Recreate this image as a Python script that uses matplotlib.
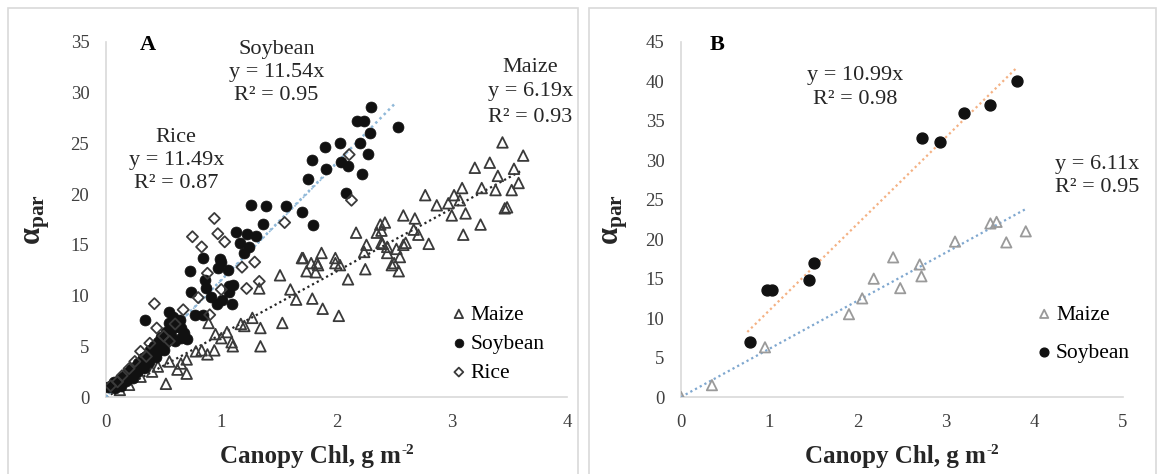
import matplotlib
matplotlib.use("Agg")
import matplotlib.pyplot as plt
from matplotlib.patches import Rectangle
import numpy as np

plt.rcParams['font.family'] = ['Liberation Serif', 'DejaVu Serif']
plt.rcParams['mathtext.fontset'] = 'custom'
plt.rcParams['mathtext.rm'] = 'Liberation Serif'
plt.rcParams['mathtext.it'] = 'Liberation Serif:italic'
plt.rcParams['mathtext.bf'] = 'Liberation Serif:bold'

# ---------------- Panel A data: canopy chlorophyll vs alpha_par ----------------
maize_a_x = [3.44, 3.62, 3.33, 3.20, 3.54, 3.40, 3.58, 3.26, 3.38, 3.52, 3.09, 3.02, 3.07, 2.97,
             3.00, 3.12, 2.77, 2.87, 3.46, 3.48, 3.25, 3.10, 2.58, 2.68, 2.67, 2.71, 2.80, 2.58,
             2.42, 2.39, 2.17, 2.26, 2.39, 2.44, 2.52, 2.55, 2.50, 2.54, 2.24, 2.25, 2.10, 1.99,
             2.03, 1.87, 1.71, 1.78, 1.84, 1.74, 1.82, 1.51, 1.33, 1.60, 1.65, 1.79, 1.88, 2.02,
             1.27, 1.34, 1.17, 1.53, 1.05, 1.09, 1.10, 1.34, 0.89, 0.94, 0.83, 0.88, 0.70, 0.65,
             0.70, 0.52, 0.62, 0.78, 0.40, 0.30, 0.20, 0.12, 0.45, 0.55, 1.00, 0.95, 1.20, 2.35,
             2.38, 2.40, 2.60, 2.48, 2.44, 1.70, 1.83, 1.99]
maize_a_y = [25.1, 23.8, 23.1, 22.6, 22.5, 21.8, 21.1, 20.6, 20.4, 20.4, 20.6, 19.9, 19.4, 19.1,
             17.9, 18.1, 19.9, 18.9, 18.6, 18.7, 17.0, 16.0, 17.9, 17.6, 16.5, 16.0, 15.1, 15.0,
             17.2, 16.4, 16.2, 15.0, 15.2, 14.8, 14.6, 13.8, 13.2, 12.4, 14.3, 12.6, 11.6, 13.7,
             13.0, 14.2, 13.7, 13.2, 13.0, 12.4, 12.3, 12.0, 10.7, 10.6, 9.6, 9.7, 8.7, 8.0,
             7.8, 6.8, 7.2, 7.3, 6.4, 5.4, 5.0, 5.0, 7.3, 4.6, 4.6, 4.2, 3.7, 3.3,
             2.3, 1.3, 2.7, 4.5, 2.5, 2.0, 1.2, 0.7, 3.0, 3.5, 5.8, 6.2, 7.0, 16.2,
             17.0, 15.1, 15.2, 13.0, 14.2, 13.7, 13.2, 13.2]

soy_a_x = [2.30, 2.53, 2.18, 2.24, 2.29, 2.20, 2.27, 2.03, 1.90, 1.79, 1.91, 2.04, 2.10, 2.22,
           1.75, 2.08, 1.26, 1.39, 1.56, 1.70, 1.80, 1.36, 1.30, 1.13, 1.22, 1.16, 1.24, 1.20,
           1.00, 0.84, 0.97, 1.06, 0.73, 0.86, 1.07, 0.74, 0.87, 0.91, 1.07, 1.01, 0.96, 1.09,
           0.77, 0.84, 0.55, 0.58, 0.64, 0.34, 0.65, 0.70, 0.99, 1.10,
           0.02, 0.05, 0.07, 0.08, 0.10, 0.12, 0.13, 0.15, 0.17, 0.18, 0.20, 0.22, 0.23, 0.25,
           0.27, 0.28, 0.30, 0.32, 0.33, 0.35, 0.37, 0.38, 0.40, 0.42, 0.43, 0.45, 0.47, 0.48,
           0.50, 0.52, 0.53, 0.55, 0.56, 0.58, 0.60, 0.62, 0.65, 0.68, 0.44, 0.50]
soy_a_y = [28.6, 26.6, 27.2, 27.2, 26.0, 25.0, 24.0, 25.0, 24.6, 23.4, 22.5, 23.2, 22.8, 22.0,
           21.5, 20.1, 18.9, 18.8, 18.8, 18.2, 17.0, 17.1, 15.9, 16.3, 16.1, 15.2, 14.8, 14.2,
           13.3, 13.7, 12.7, 12.5, 12.4, 11.5, 10.9, 10.4, 10.7, 9.9, 10.4, 9.6, 9.2, 9.2,
           8.1, 8.1, 8.4, 7.9, 7.6, 7.6, 6.8, 5.7, 13.6, 11.0,
           1.0, 1.2, 1.5, 0.9, 1.3, 1.8, 1.1, 2.0, 1.6, 2.4, 2.2, 2.8, 1.9, 3.0,
           2.5, 3.4, 3.0, 3.8, 2.9, 4.0, 3.5, 4.6, 4.2, 5.0, 3.9, 5.4, 4.8, 5.9,
           5.2, 6.4, 5.7, 7.3, 6.0, 6.8, 5.5, 7.0, 5.8, 6.3, 4.4, 4.6]

rice_a_x = [2.11, 2.13, 1.55, 0.94, 0.75, 0.83, 0.97, 1.03, 1.29, 0.88, 1.22, 1.33, 1.00, 0.42,
            0.67, 0.90, 0.44, 0.30, 0.14, 0.04, 0.50, 0.60, 0.20, 0.25, 0.35, 0.10, 0.55, 1.18,
            0.80, 0.38]
rice_a_y = [23.9, 19.4, 17.2, 17.6, 15.8, 14.8, 16.1, 15.3, 13.3, 12.2, 10.7, 11.4, 10.6, 9.2,
            8.6, 8.1, 6.8, 4.5, 2.1, 1.1, 6.0, 7.2, 2.8, 3.5, 4.0, 1.5, 5.5, 12.8,
            9.8, 5.3]

slope_a = {"Maize": 6.19, "Soybean": 11.54, "Rice": 11.49}
r2_a = {"Maize": 0.93, "Soybean": 0.95, "Rice": 0.87}

# ---------------- Panel B data ----------------
soy_b_x = [0.78, 0.97, 1.03, 1.45, 1.50, 2.73, 2.93, 3.20, 3.50, 3.80]
soy_b_y = [7.0, 13.6, 13.6, 14.8, 17.0, 32.8, 32.3, 36.0, 37.0, 40.0]
maize_b_x = [0.00, 0.35, 0.95, 1.90, 2.05, 2.18, 2.40, 2.48, 2.70, 2.72, 3.10, 3.50, 3.57, 3.68, 3.90]
maize_b_y = [0.0, 1.5, 6.3, 10.5, 12.5, 15.0, 17.7, 13.8, 16.8, 15.3, 19.7, 22.0, 22.2, 19.6, 21.0]

slope_b = {"Maize": 6.11, "Soybean": 10.99}
r2_b = {"Maize": 0.95, "Soybean": 0.98}

# ---------------- Figure ----------------
W, H = 1159, 474
fig = plt.figure(figsize=(W / 100, H / 100), dpi=100)


def fx(px):
    return px / W


def fy(py):
    return 1 - py / H


# chart-area frames
fig.add_artist(Rectangle((fx(8), fy(480)), fx(570), 472 / H, transform=fig.transFigure,
                         fill=False, edgecolor='#d9d9d9', lw=1.2))
fig.add_artist(Rectangle((fx(589), fy(480)), fx(567), 472 / H, transform=fig.transFigure,
                         fill=False, edgecolor='#d9d9d9', lw=1.2))

axA = fig.add_axes([fx(106), fy(397), fx(567 - 106), (397 - 42) / H])
axB = fig.add_axes([fx(681), fy(397), fx(1123 - 681), (397 - 42) / H])

tick_color = '#404040'
for ax in (axA, axB):
    for s in ('top', 'right'):
        ax.spines[s].set_visible(False)
    for s in ('left', 'bottom'):
        ax.spines[s].set_color('#d9d9d9')
        ax.spines[s].set_linewidth(1.2)
    ax.tick_params(length=0, labelsize=13.5, colors=tick_color)
    ax.tick_params(axis='x', pad=12)
    ax.tick_params(axis='y', pad=12)
    ax.patch.set_alpha(0)

dotted = (0, (1, 1.4))
legend_font = {'family': 'Liberation Serif', 'size': 15.5}

# Panel A
axA.set_xlim(0, 4)
axA.set_ylim(0, 35)
axA.set_xticks([0, 1, 2, 3, 4])
axA.set_yticks(range(0, 36, 5))

xs = np.array([0, 3.6])
axA.plot(xs, slope_a["Maize"] * xs, ls=dotted, color='#262626', lw=1.6, zorder=3)
xs = np.array([0, 2.5])
axA.plot(xs, slope_a["Soybean"] * xs, ls=dotted, color='#8fb8d8', lw=1.8, zorder=3)
xs = np.array([0, 2.1])
axA.plot(xs, slope_a["Rice"] * xs, ls=dotted, color='#8fb8d8', lw=1.2, zorder=3)

axA.scatter(maize_a_x, maize_a_y, marker='^', s=58, facecolors='none',
            edgecolors='#3a3a3a', linewidths=1.3, zorder=4, label='Maize')
axA.scatter(soy_a_x, soy_a_y, marker='o', s=62, color='#111111', edgecolors='#111111',
            linewidths=0.5, zorder=5, label='Soybean')
axA.scatter(rice_a_x, rice_a_y, marker='D', s=32, facecolors='none',
            edgecolors='#3a3a3a', linewidths=1.3, zorder=6, label='Rice')

axA.text(0.36, 34.7, 'A', fontsize=16, fontweight='bold', ha='center', va='center')
ann = dict(fontsize=16, ha='center', va='center', color='#262626')
axA.text(1.48, 34.3, 'Soybean', **ann)
axA.text(1.48, 32.0, 'y = %.2fx' % slope_a["Soybean"], **ann)
axA.text(1.48, 29.7, 'R² = %.2f' % r2_a["Soybean"], **ann)
axA.text(0.61, 25.6, 'Rice', **ann)
axA.text(0.61, 23.3, 'y = %.2fx' % slope_a["Rice"], **ann)
axA.text(0.61, 21.0, 'R² = %.2f' % r2_a["Rice"], **ann)
axA.text(3.68, 32.5, 'Maize', **ann)
axA.text(3.68, 30.1, 'y = %.2fx' % slope_a["Maize"], **ann)
axA.text(3.68, 27.6, 'R² = %.2f' % r2_a["Maize"], **ann)

axA.legend(loc='upper left', bbox_to_anchor=(0.735, 0.285), frameon=False,
           prop=legend_font, handlelength=0.5, handletextpad=0.3, labelspacing=0.42,
           borderaxespad=0, markerscale=0.8)

# Panel B
axB.set_xlim(0, 5)
axB.set_ylim(0, 45)
axB.set_xticks([0, 1, 2, 3, 4, 5])
axB.set_yticks(range(0, 46, 5))

xs = np.array([0.75, 3.8])
axB.plot(xs, slope_b["Soybean"] * xs, ls=dotted, color='#f4b183', lw=1.6, zorder=3)
xs = np.array([0, 3.9])
axB.plot(xs, slope_b["Maize"] * xs, ls=dotted, color='#7fa7cf', lw=1.6, zorder=3)

axB.scatter(maize_b_x, maize_b_y, marker='^', s=55, facecolors='none',
            edgecolors='#9a9a9a', linewidths=1.3, zorder=4, label='Maize')
axB.scatter(soy_b_x, soy_b_y, marker='o', s=62, color='#111111', zorder=5, label='Soybean')

axB.text(0.41, 44.6, 'B', fontsize=16, fontweight='bold', ha='center', va='center')
axB.text(1.97, 40.7, 'y = %.2fx' % slope_b["Soybean"], **ann)
axB.text(1.97, 37.7, 'R² = %.2f' % r2_b["Soybean"], **ann)
axB.text(4.71, 29.5, 'y = %.2fx' % slope_b["Maize"], **ann)
axB.text(4.71, 26.5, 'R² = %.2f' % r2_b["Maize"], **ann)

axB.legend(loc='upper left', bbox_to_anchor=(0.79, 0.285), frameon=False,
           prop=legend_font, handlelength=0.5, handletextpad=0.3, labelspacing=0.85,
           borderaxespad=0, markerscale=0.8)

# Axis titles: y-title as alpha with bold "par" subscript, x-title with raised "-2"
ylab = r'$\mathbf{\alpha_{par}}$'
fig.text(fx(38), fy(220), ylab, rotation=90, fontsize=22, ha='center', va='center',
         color='#262626')
fig.text(fx(615), fy(220), ylab, rotation=90, fontsize=22, ha='center', va='center',
         color='#262626')

fig.canvas.draw()
renderer = fig.canvas.get_renderer()
for cx in (310, 895):
    main = fig.text(fx(cx), fy(457), 'Canopy Chl, g m', fontsize=18, fontweight='bold',
                    ha='center', va='center', color='#262626')
    bb = main.get_window_extent(renderer)
    fig.text((bb.x1 + 1) / W, (bb.y1 + 2) / H, '-2', fontsize=11, fontweight='bold',
             ha='left', va='top', color='#262626')

fig.savefig('out.png', dpi=100)
